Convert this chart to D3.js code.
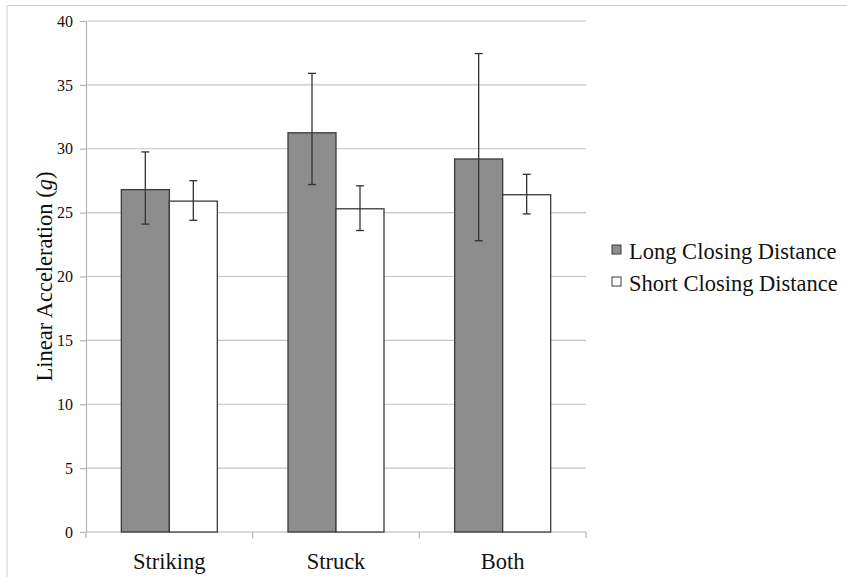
<!DOCTYPE html>
<html lang="en">
<head>
  <meta charset="UTF-8">
  <title>Linear Acceleration by Closing Distance</title>
  <style>
  body { margin: 0; background: #fff; }
  svg text { font-family: 'Liberation Serif', 'Times New Roman', Times, serif; fill: #111; }
  .grid line { stroke: #c4c4c4; stroke-width: 1.2; }
  .axis path, .axis line { stroke: #b4b4b4; stroke-width: 1.2; }
  </style>
</head>
<body>
  <script src="https://d3js.org/d3.v7.min.js"></script>
  <script>
  var categories = ['Striking', 'Struck', 'Both'];
  var seriesNames = ['Long Closing Distance', 'Short Closing Distance'];
  var longMean = [26.8, 31.25, 29.2];
  var longLow = [24.1, 27.2, 22.8];
  var longHigh = [29.75, 35.9, 37.45];
  var shortMean = [25.9, 25.3, 26.4];
  var shortLow = [24.4, 23.6, 24.9];
  var shortHigh = [27.5, 27.1, 28.0];
  var yTicks = [0, 5, 10, 15, 20, 25, 30, 35, 40];

  var width = 847, height = 577;
  var plot = { left: 86, right: 586, top: 21, bottom: 532 };
  var fills = ['#8d8d8d', '#ffffff'];
  var serif = "'Liberation Serif', 'Times New Roman', serif";

  var svg = d3.select('body').append('svg')
              .attr('width', width)
              .attr('height', height)
              .attr('font-family', serif);

  // faint frame around the figure
  svg.append('path')
     .attr('d', 'M7,' + height + 'V5.5H' + width)
     .attr('fill', 'none')
     .attr('stroke', '#d0d0d0');

  var x = d3.scaleBand()
            .domain(categories)
            .range([plot.left, plot.right]);

  var xInner = d3.scaleBand()
                 .domain(seriesNames)
                 .range([0, 96]);

  var y = d3.scaleLinear()
            .domain([0, 40])
            .range([plot.bottom, plot.top]);

  // gridlines
  svg.append('g')
     .attr('class', 'grid')
     .selectAll('line')
     .data(yTicks.slice(1))
     .enter()
     .append('line')
     .attr('x1', plot.left)
     .attr('x2', plot.right)
     .attr('y1', function (d) { return y(d); })
     .attr('y2', function (d) { return y(d); });

  var yAxis = svg.append('g')
                 .attr('class', 'axis')
                 .attr('transform', 'translate(' + plot.left + ',0)')
                 .call(d3.axisLeft(y).tickValues(yTicks).tickSize(6).tickSizeOuter(0));
  yAxis.attr('font-family', serif).attr('font-size', 16);
  yAxis.selectAll('text')
       .attr('x', -13)
       .attr('fill', '#111');

  // x axis with boundary ticks between categories
  var xAxis = svg.append('g').attr('class', 'axis');
  xAxis.append('line')
       .attr('x1', plot.left).attr('x2', plot.right)
       .attr('y1', plot.bottom).attr('y2', plot.bottom);
  var bounds = [plot.left].concat(categories.map(function (c) { return x(c) + x.bandwidth(); }));
  xAxis.selectAll('.bt')
       .data(bounds)
       .enter()
       .append('line')
       .attr('x1', function (d) { return d; })
       .attr('x2', function (d) { return d; })
       .attr('y1', plot.bottom)
       .attr('y2', plot.bottom + 6);

  svg.append('g')
     .selectAll('text')
     .data(categories)
     .enter()
     .append('text')
     .attr('x', function (d) { return x(d) + x.bandwidth() / 2; })
     .attr('y', 569)
     .attr('text-anchor', 'middle')
     .style('font-size', '22.5px')
     .text(function (d) { return d; });

  // bars
  var rows = [];
  categories.forEach(function (c, i) {
    rows.push({ cat: c, s: 0, v: longMean[i], lo: longLow[i], hi: longHigh[i] });
    rows.push({ cat: c, s: 1, v: shortMean[i], lo: shortLow[i], hi: shortHigh[i] });
  });
  function barX(d) {
    return x(d.cat) + (x.bandwidth() - 96) / 2 + xInner(seriesNames[d.s]);
  }

  svg.append('g')
     .selectAll('rect')
     .data(rows)
     .enter()
     .append('rect')
     .attr('x', barX)
     .attr('y', function (d) { return y(d.v); })
     .attr('width', xInner.bandwidth())
     .attr('height', function (d) { return y(0) - y(d.v); })
     .attr('fill', function (d) { return fills[d.s]; })
     .attr('stroke', '#3a3a3a')
     .attr('stroke-width', 1.3);

  // error bars
  var err = svg.append('g')
               .attr('stroke', '#333')
               .attr('stroke-width', 1.3);
  rows.forEach(function (d) {
    var cx = barX(d) + xInner.bandwidth() / 2;
    err.append('line').attr('x1', cx).attr('x2', cx).attr('y1', y(d.lo)).attr('y2', y(d.hi));
    err.append('line').attr('x1', cx - 4).attr('x2', cx + 4).attr('y1', y(d.lo)).attr('y2', y(d.lo));
    err.append('line').attr('x1', cx - 4).attr('x2', cx + 4).attr('y1', y(d.hi)).attr('y2', y(d.hi));
  });

  // y title
  var title = svg.append('text')
                 .attr('transform', 'translate(52,' + (plot.top + plot.bottom) / 2 + ') rotate(-90)')
                 .attr('text-anchor', 'middle')
                 .style('font-size', '22.5px');
  title.append('tspan').text('Linear Acceleration (');
  title.append('tspan').style('font-style', 'italic').text('g');
  title.append('tspan').text(')');

  // legend
  var legend = svg.append('g')
                  .selectAll('g')
                  .data(seriesNames)
                  .enter()
                  .append('g')
                  .attr('transform', function (d, i) { return 'translate(612,' + (245 + i * 32) + ')'; });
  legend.append('rect')
        .attr('width', 9)
        .attr('height', 9)
        .attr('fill', function (d, i) { return fills[i]; })
        .attr('stroke', '#3a3a3a');
  legend.append('text')
        .attr('x', 17)
        .attr('y', 14)
        .style('font-size', '22.5px')
        .text(function (d) { return d; });
  </script>
</body>
</html>
